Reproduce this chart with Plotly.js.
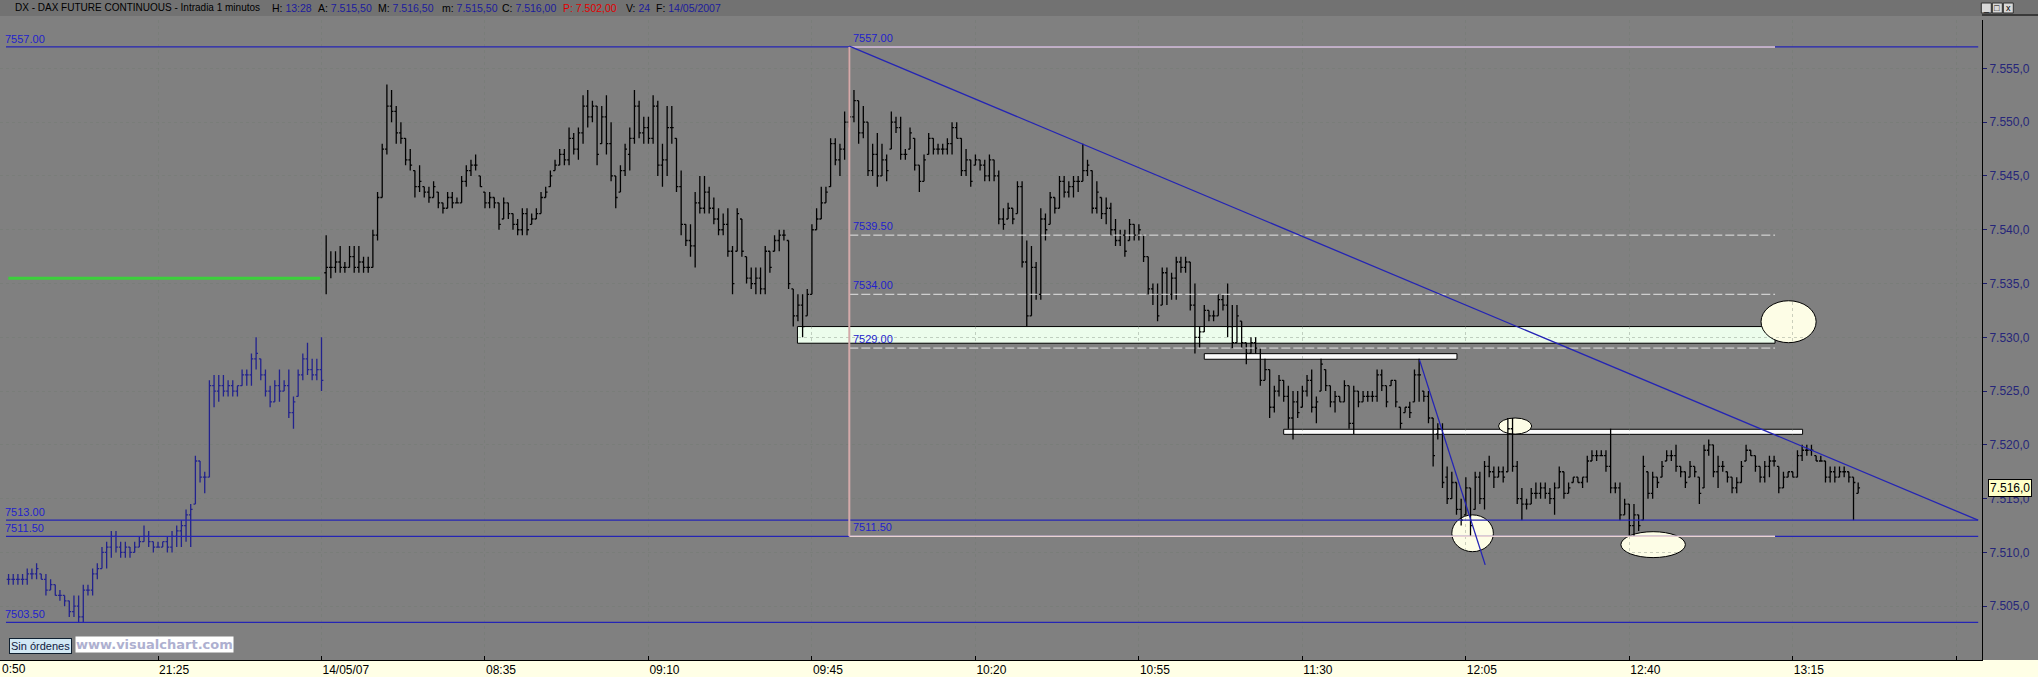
<!DOCTYPE html>
<html><head><meta charset="utf-8">
<script src="https://cdn.plot.ly/plotly-3.0.1.min.js"></script>
<style>html,body{margin:0;padding:0;background:#808080;overflow:hidden}</style>
</head><body><div id="chart" style="width:2038px;height:677px"></div>
<script>
// ---- data: previous session (13/05) 1-minute bars, slots 3..70 ----
const prevStartSlot = 3;
const prevHigh = [7508,7508,7508,7508,7508.5,7508.5,7509,7508,7508,7507.5,
7507,7506.5,7506,7505.5,7506,7506,7507,7507,7508.5,7509,
7510.5,7511,7512,7512,7511,7511,7510.5,7511,7511.5,7512.5,
7512,7511,7511,7511,7511.5,7512,7512.5,7513,7514,7514.5,
7519,7518.5,7517.5,7526,7526.5,7526.5,7526.5,7526,7526,7525.5,
7527,7527,7528.5,7530,7528,7527,7525.5,7526,7527,7526,
7527,7524.5,7527,7528.5,7529.5,7528,7528,7530];
const prevLow = [7507,7507,7507,7507,7507,7507.5,7507.5,7507.5,7506,7506.5,
7506,7505.5,7505,7504,7504,7503.5,7503.5,7506,7506,7507.5,
7508.5,7508.5,7509.5,7510,7509.5,7509.5,7509.5,7510,7510.5,7511,
7510.5,7510,7510.5,7510.5,7510,7510,7510.5,7510.5,7511,7510.5,
7514.5,7516.5,7515.5,7517,7523.5,7524,7524.5,7524.5,7524.5,7524.5,
7525.5,7525.5,7525.5,7527,7526,7524.5,7523.5,7524,7524,7525,
7522.5,7521.5,7524.5,7526,7526.5,7526,7526,7525];
const prevOpen = [7507.5,7507.5,7507.5,7507.5,7507.5,7508,7508,7508,7507.5,7506.5,
7507,7506,7506,7505.5,7504.5,7505,7504,7506.5,7506.5,7508,
7508.5,7510,7510.5,7511.5,7510.5,7510,7510.5,7510,7510.5,7511,
7511.5,7511,7510.5,7510.5,7511,7510.5,7511.5,7512,7512.5,7513.5,
7514.5,7518.5,7517,7517,7525.5,7525,7525.5,7525,7525.5,7525,
7525.5,7526.5,7526.5,7528,7528,7526.5,7525,7524,7525.5,7525,
7525.5,7523,7524.5,7526.5,7528,7527,7526.5,7527];
const prevClose = [7507.5,7507.5,7507.5,7507.5,7508,7508,7508.5,7507.5,7506.5,7507,
7506,7506,7505.5,7504.5,7505,7504,7506.5,7506.5,7508,7508.5,
7510,7510.5,7511.5,7510.5,7510,7510.5,7510,7510.5,7511,7511.5,
7511,7510.5,7510.5,7511,7510.5,7511.5,7512,7512.5,7513.5,7514,
7518.5,7517,7517,7525.5,7525,7525.5,7525,7525.5,7525,7525.5,
7526.5,7526.5,7528,7528.5,7526.5,7525,7524,7525.5,7525,7525.5,
7523,7524,7526.5,7528,7527,7526.5,7527,7526];

// ---- data: session 14/05/07, slots 71..399 ----
const dayStartSlot = 71;
const dayHigh = [
7539.5,7538,7538,7538.5,7537,7538.5,7538.5,7538.5,7537.5,7537.5,
7540,7543.5,7548,7553.5,7553,7551.5,7550,7548.5,7547.5,7545.5,
7546,7544,7544,7544.5,7543.5,7542.5,7543.5,7543.5,7543,7545,
7546,7546.5,7547,7545,7543.5,7543.5,7543,7542.5,7543,7542.5,
7541.5,7541,7542,7542,7541.5,7542,7543.5,7544,7545.5,7546.5,
7547.5,7547.5,7549.5,7549,7549.5,7552.5,7553,7552,7551.5,7551.5,
7552.5,7550,7545,7546,7548,7549.5,7553,7552,7550.5,7550.5,
7552.5,7552,7548,7551.5,7551.5,7548.5,7545.5,7540.5,7540.5,7543.5,
7545,7545,7544,7543,7542,7541.5,7542,7538.5,7542,7541,
7537.5,7536.5,7536.5,7536.5,7538.5,7538,7539.5,7540,7540,7539,
7534.5,7534,7534,7534.5,7540.5,7542,7544,7544,7548.5,7548.5,
7548,7551,7557,7553,7552,7551.5,7550,7548,7549,7548,
7547,7551,7550.5,7550.5,7547.5,7549.5,7548.5,7546,7547,7549,
7548.5,7548,7548,7548.5,7550,7550,7548.5,7547.5,7546.5,7547,
7546.5,7546.5,7547,7546.5,7545.5,7542,7542.5,7542,7544.5,7544.5,
7539,7538.5,7537,7542,7541.5,7543.5,7543,7545,7545,7544.5,
7545,7545,7548,7546.5,7545.5,7544.5,7543,7543,7542.5,7541,
7540,7540,7541,7540.5,7540.5,7539.5,7537.5,7535,7535,7536.5,
7536.5,7536,7537.5,7537.5,7537.5,7537,7535,7531,7533,7532.5,
7532.5,7534,7534,7535,7533,7533,7531.5,7529.5,7530,7530,
7529,7528,7527,7525.5,7526.5,7526,7525.5,7525,7525,7525.5,
7526.5,7527,7524.5,7528,7527,7525.5,7525,7524.5,7526,7525.5,
7525.5,7525,7525,7525,7525,7527,7527,7525.5,7526,7526,
7523.5,7523.5,7524,7527,7528,7525,7525,7522.5,7522,7522,
7518,7517.5,7516.5,7515,7517,7516,7517.5,7517.5,7518.5,7519,
7518,7518,7518,7522.5,7522.5,7518.5,7516,7515,7516,7516.5,
7516.5,7516.5,7516,7516.5,7518,7517.5,7516.5,7517,7517,7517,
7519,7519.5,7519.5,7519.5,7519.5,7521.5,7516.5,7516.5,7515,7514.5,
7514.5,7513.5,7519,7517.5,7517.5,7517,7518.5,7519.5,7519.5,7520,
7518,7517.5,7518.5,7518,7517,7520,7520.5,7520,7519,7518.5,
7517.5,7517,7517,7518.5,7520,7519.5,7519,7518,7518.5,7519,
7519,7518,7517.5,7517.5,7517.5,7519.5,7520,7520,7520,7519,
7519,7518.5,7518,7518,7518,7518,7517.5,7517,7516.5];
const dayLow = [
7534,7535.5,7536,7536,7536,7536.5,7536,7536,7536,7536,
7536.5,7539,7543,7547,7550,7548,7548,7546,7545.5,7543,
7543.5,7543,7542.5,7543,7542,7541.5,7542,7542,7542.5,7542.5,
7544,7545,7545.5,7544,7542,7542,7542,7540,7541,7541,
7540,7539.5,7539.5,7539.5,7540.5,7541,7541.5,7543,7544,7545.5,
7546,7546,7546,7547,7546.5,7548,7549.5,7550,7546,7548,
7547,7544.5,7542,7543.5,7545,7545.5,7548,7548.5,7548,7548,
7548,7545,7544,7545,7548,7543.5,7539.5,7538.5,7537.5,7536.5,
7541.5,7541.5,7541.5,7540.5,7539.5,7539.5,7537.5,7534,7538,7537.5,
7535,7534.5,7534,7534,7534,7536,7538,7538,7539,7534.5,
7531,7531.5,7530,7532,7534,7540,7541,7542.5,7544,7546,
7545,7546.5,7549.5,7550,7548,7548.5,7545,7545,7544,7545,
7544.5,7547.5,7549,7546.5,7546.5,7547.5,7545.5,7543.5,7544.5,7547,
7547,7547,7547,7547,7547,7548.5,7545,7545,7544,7546,
7545.5,7544.5,7544.5,7544.5,7540.5,7540,7541,7540.5,7541.5,7536.5,
7531,7532,7533.5,7533.5,7539,7540.5,7541.5,7542,7543,7543,
7543,7543.5,7544.5,7545,7541.5,7541.5,7541,7540.5,7539.5,7538.5,
7538.5,7537.5,7539,7539,7539,7537,7534,7533,7531.5,7533,
7533,7533.5,7533.5,7536,7536,7532.5,7528.5,7529,7530.5,7531.5,
7531.5,7532,7532.5,7530,7529,7529.5,7529,7527.5,7528.5,7528.5,
7525.5,7526,7522.5,7523,7524.5,7524,7521.5,7520.5,7522.5,7523.5,
7524.5,7523,7522,7525,7525,7523.5,7523,7524,7524,7521.5,
7521,7523.5,7524,7524,7524,7524,7525,7523.5,7525.5,7523.5,
7521.5,7523,7522.5,7524,7524,7524,7522,7518,7520.5,7516,
7514.5,7515,7513.5,7512.5,7513.5,7511.5,7514,7514.5,7514,7517,
7516,7517,7516.5,7517.5,7517.5,7514.5,7513,7514,7514.5,7515,
7515,7515,7514.5,7513.5,7516,7515,7515.5,7516.5,7516.5,7516,
7516.5,7518.5,7518.5,7519,7517.5,7515.5,7515.5,7513,7513.5,7511.5,
7511.5,7512,7513,7515,7515,7516,7517,7518.5,7518.5,7517.5,
7517,7516,7517,7517,7514.5,7516,7519,7517,7516,7517.5,
7516.5,7515.5,7515.5,7516.5,7518.5,7519,7517.5,7516.5,7516.5,7517,
7518,7515.5,7516,7517,7517,7517,7518.5,7519,7519,7518.5,
7518.5,7516.5,7516.5,7516.5,7517,7517,7516.5,7513,7515.5];
const dayOpen = [
7536,7536.5,7536.5,7537,7536.5,7536.5,7537.5,7536.5,7537,7536.5,
7536.5,7539.5,7543,7547.5,7551.5,7551,7549,7548.5,7546.5,7545.5,
7544,7544,7543.5,7543,7543.5,7542.5,7542,7543,7542.5,7542.5,
7544.5,7545.5,7546,7545,7543.5,7542.5,7543,7542.5,7541,7542.5,
7541.5,7540.5,7540,7541.5,7540.5,7541,7541.5,7543,7544,7545.5,
7546,7547,7546.5,7548.5,7547.5,7549,7551.5,7550.5,7551.5,7548,
7550.5,7548,7545,7543.5,7545.5,7547,7548.5,7551.5,7549,7549.5,
7548.5,7551.5,7546,7546.5,7549.5,7548.5,7544,7540.5,7539,7538.5,
7542.5,7542,7543.5,7542,7541,7540,7540.5,7538,7538,7541,
7537.5,7535.5,7535,7535.5,7534.5,7538,7538,7539,7539.5,7539,
7534.5,7532,7533,7532,7534,7540,7541,7542.5,7544,7548,
7546.5,7547.5,7550,7550.5,7552,7549,7550,7545.5,7547,7545,
7546.5,7547.5,7550,7549.5,7547,7547.5,7548.5,7546,7544.5,7547,
7548.5,7547.5,7547.5,7547.5,7548,7549.5,7548.5,7545.5,7546.5,7546,
7546.5,7546,7545,7546.5,7545,7541,7541,7542,7541.5,7544,
7537,7532,7536.5,7534,7541,7540.5,7543,7542,7544.5,7543.5,
7544,7544.5,7544.5,7545.5,7545.5,7542,7543,7541.5,7542,7540,
7539,7539.5,7539,7540.5,7539.5,7539.5,7537.5,7534.5,7534,7533,
7536,7534,7535.5,7537,7536.5,7537,7533,7530,7530.5,7532.5,
7532,7532,7533.5,7533,7531,7529.5,7531.5,7529.5,7528.5,7529.5,
7529,7526,7527,7523.5,7525,7526,7524.5,7522.5,7524,7523.5,
7525,7526,7523.5,7525,7527,7525.5,7524,7524.5,7524,7525.5,
7522,7525,7524,7524.5,7524.5,7524.5,7526.5,7525.5,7525.5,7526,
7523.5,7523,7523.5,7524,7526.5,7525,7524.5,7522.5,7521,7521.5,
7517,7515,7516.5,7514,7513.5,7516,7514,7517,7515,7518,
7517.5,7517,7517.5,7517.5,7521.5,7518,7515,7514.5,7514.5,7515.5,
7515.5,7516,7515.5,7515,7516,7517.5,7515.5,7516.5,7517,7516.5,
7517,7518.5,7519,7519,7519,7518,7516,7516,7513.5,7514.5,
7512.5,7513.5,7513,7517.5,7515.5,7517,7517,7518.5,7519,7519,
7518,7517.5,7517,7518,7517,7516,7519.5,7520,7517.5,7518,
7517.5,7517,7516,7516.5,7518.5,7519.5,7519,7518,7517,7518,
7518.5,7518,7516,7517,7517.5,7517,7519,7519.5,7519.5,7519,
7518.5,7518.5,7517,7517.5,7517,7517.5,7517.5,7517,7515.5];
const dayClose = [
7536.5,7536.5,7537,7536.5,7536.5,7537.5,7536.5,7537,7536.5,7536.5,
7539.5,7543,7547.5,7551.5,7551,7549,7548.5,7546.5,7546,7544,
7544.5,7543.5,7543,7544,7542.5,7542,7543,7542.5,7542.5,7544.5,
7545.5,7546,7546,7544,7542.5,7543,7542.5,7540.5,7542.5,7541.5,
7540.5,7540,7541.5,7540,7541,7541.5,7543,7543.5,7545,7546,
7547,7546.5,7548.5,7547.5,7549,7551.5,7550.5,7551.5,7547,7550.5,
7548,7545,7543,7545.5,7547.5,7548.5,7551.5,7549,7549.5,7548.5,
7551.5,7546,7546.5,7549.5,7549.5,7544,7540.5,7539,7538.5,7542.5,
7542,7543.5,7542,7541,7540,7540.5,7538,7535,7541.5,7538,
7535.5,7535,7535.5,7534.5,7538,7536.5,7539,7539.5,7539.5,7535,
7532,7533,7531,7534,7540,7541,7542.5,7543.5,7548,7546.5,
7547.5,7550,7550.5,7552,7549,7550,7545.5,7547,7545,7546.5,
7545.5,7550,7549.5,7547,7547,7549,7546,7544.5,7546.5,7548.5,
7547.5,7547.5,7547.5,7548,7549.5,7548.5,7545.5,7546.5,7544.5,7546.5,
7546,7545,7546.5,7545,7541,7540.5,7542,7541,7544,7537,
7532,7536.5,7534,7541,7540,7543,7542,7544.5,7543.5,7544,
7544.5,7544.5,7545.5,7546,7542,7543.5,7541.5,7542,7540,7539,
7539.5,7538,7540.5,7539.5,7540,7537.5,7534.5,7534,7532,7536,
7534,7535.5,7537,7536.5,7537,7533,7530,7530.5,7532.5,7532,
7532,7533.5,7533,7531,7529.5,7532,7529.5,7528.5,7529.5,7529,
7526,7527,7523.5,7525,7526,7524.5,7522.5,7524,7523,7525,
7526,7523.5,7524,7527.5,7525.5,7524,7524.5,7524,7525.5,7522,
7525,7524,7524.5,7524.5,7524.5,7526.5,7525.5,7524,7526,7524,
7522,7523.5,7523,7526.5,7526.5,7524.5,7522.5,7519,7521.5,7516.5,
7515,7516.5,7514,7513,7516,7512.5,7517,7515,7518,7517.5,
7517,7517.5,7517,7521.5,7518,7515,7514.5,7514.5,7515.5,7515.5,
7516,7515.5,7515,7516,7517.5,7515.5,7516,7517,7516.5,7517,
7518.5,7519,7519,7519,7518,7516,7516,7513.5,7514.5,7512.5,
7513.5,7512.5,7518,7515.5,7517,7516.5,7518,7519,7519,7518,
7517.5,7516.5,7518,7517.5,7515.5,7519.5,7520,7517.5,7518,7518,
7517,7516,7516.5,7518,7519.5,7519,7518,7517,7518,7518.5,
7518.5,7516,7517,7517.5,7517,7519,7519.5,7519.5,7519.5,7518.5,
7518.5,7517,7517.5,7517,7517.5,7517.5,7517,7516.5,7516];

// ---- axis labels / levels ----
const xTickSlots = [35,70,105,140,175,210,245,280,315,350,385,420];
const xTickLabels = ['21:25','14/05/07','08:35','09:10','09:45','10:20','10:55','11:30','12:05','12:40','13:15',''];
const yTickVals = [7505,7510,7515,7520,7525,7530,7535,7540,7545,7550,7555];
const supportLevels = [7557, 7513, 7511.5, 7503.5];
const supportLabels = ['7557.00','7513.00','7511.50','7503.50'];
const fibLevels = [7557, 7539.5, 7534, 7529, 7511.5];
const fibLabels = ['7557.00','7539.50','7534.00','7529.00','7511.50'];
const greenLevel = 7535.5;
const zoneLevels = [7529.45, 7531];
const lastPrice = 7516.0;
const headerTitle = 'DX - DAX FUTURE CONTINUOUS - Intradia 1 minutos';
const headerKeys = ['H:','A:','M:','m:','C:','P:','V:','F:'];
const headerValues = ['13:28','7.515,50','7.516,50','7.515,50','7.516,00','7.502,00','24','14/05/2007'];

const prevX = prevOpen.map((_, i) => prevStartSlot + i);
const dayX = dayOpen.map((_, i) => dayStartSlot + i);

const traces = [
  {type:'ohlc', x:prevX, open:prevOpen, high:prevHigh, low:prevLow, close:prevClose,
   increasing:{line:{color:'#22228e', width:1.3}}, decreasing:{line:{color:'#22228e', width:1.3}},
   tickwidth:0.4, hoverinfo:'skip'},
  {type:'ohlc', x:dayX, open:dayOpen, high:dayHigh, low:dayLow, close:dayClose,
   increasing:{line:{color:'#000000', width:1.3}}, decreasing:{line:{color:'#000000', width:1.3}},
   tickwidth:0.4, hoverinfo:'skip'}
];

const BLUE = '#2424b4';
const PW = 1981.7; // plot width px
const PH = 640;
const shapes = [];
// header band and bottom band
shapes.push({type:'rect', xref:'paper', yref:'paper', x0:-0.01, x1:1.03, y0:1+4/PH, y1:1+21/PH, fillcolor:'#727272', line:{width:0}, layer:'below'});
shapes.push({type:'rect', xref:'paper', yref:'paper', x0:-0.01, x1:1.03, y0:-18/PH, y1:0, fillcolor:'#ffffe6', line:{width:0}, layer:'below'});
shapes.push({type:'line', xref:'paper', yref:'paper', x0:1, x1:1.03, y0:1+5/PH, y1:1+5/PH, line:{color:'#000', width:1}});
// window buttons
[0,1,2].forEach(k=>{
  shapes.push({type:'rect', xref:'paper', yref:'paper', x0:(1981+k*11)/PW, x1:(1991+k*11)/PW, y0:1+7/PH, y1:1+17/PH, fillcolor:'#d8d8d8', line:{color:'#303030', width:1}});
});
// light zones (below bars)
shapes.push({type:'rect', x0:171.9, x1:381.2, y0:zoneLevels[0], y1:zoneLevels[1], fillcolor:'#ecfdec', line:{color:'#000', width:1}, layer:'below'});
shapes.push({type:'rect', x0:259.0, x1:313.1, y0:7527.96, y1:7528.48, fillcolor:'#fafafa', line:{color:'#000', width:1}, layer:'below'});
shapes.push({type:'rect', x0:276.0, x1:387.1, y0:7520.98, y1:7521.45, fillcolor:'#fafafa', line:{color:'#000', width:1}, layer:'below'});
shapes.push({type:'circle', x0:378.2, x1:390.0, y0:7529.5, y1:7533.4, fillcolor:'#fdfde6', line:{color:'#000', width:1}, layer:'below'});
shapes.push({type:'circle', x0:322.0, x1:329.1, y0:7521.0, y1:7522.5, fillcolor:'#fdfde6', line:{color:'#000', width:1}, layer:'below'});
shapes.push({type:'circle', x0:312.0, x1:320.9, y0:7510.07, y1:7513.49, fillcolor:'#fdfde6', line:{color:'#000', width:1}, layer:'below'});
shapes.push({type:'circle', x0:348.2, x1:362.0, y0:7509.52, y1:7511.93, fillcolor:'#fdfde6', line:{color:'#000', width:1}, layer:'below'});
// green reference line
shapes.push({type:'line', x0:2.95, x1:69.7, y0:greenLevel, y1:greenLevel, line:{color:'#3cd03c', width:3}});
// blue horizontal lines
supportLevels.forEach(v=>shapes.push({type:'line', x0:2.45, x1:424.7, y0:v, y1:v, line:{color:BLUE, width:1.3}}));
// fibonacci retracement
fibLevels.forEach((v,i)=>{
  const solid = (i===0 || i===fibLevels.length-1);
  shapes.push({type:'line', x0:183, x1:381.2, y0:v, y1:v,
    line: solid ? {color:'#ead2d2', width:1.5} : {color:'#e4e4e4', width:1, dash:'9px,3px'}});
});
shapes.push({type:'line', x0:183, x1:183, y0:fibLevels[fibLevels.length-1], y1:fibLevels[0], line:{color:'#d4aaaa', width:2}});
// trend lines
shapes.push({type:'line', x0:183, x1:424.66, y0:7557.07, y1:7513.0, line:{color:BLUE, width:1.3}});
shapes.push({type:'line', x0:305.08, x1:319.15, y0:7527.9, y1:7508.84, line:{color:BLUE, width:1.3}});

const FONT = 'Arial, Liberation Sans, sans-serif';
const LBL = {family:FONT, size:11, color:'#2222cc'};
const annotations = [];
supportLevels.forEach((v,i)=>annotations.push({xref:'paper', x:4/PW, xanchor:'left', y:v, yanchor:'bottom', yshift:1, text:supportLabels[i], showarrow:false, font:LBL, borderpad:0}));
fibLevels.forEach((v,i)=>annotations.push({x:183.6, xanchor:'left', y:v, yanchor:'bottom', yshift:2, text:fibLabels[i], showarrow:false, font:LBL, borderpad:0}));
// header line
const HY = 1+(20-8)/PH;
annotations.push({xref:'paper', yref:'paper', x:13/PW, y:HY, xanchor:'left', yanchor:'middle', text:headerTitle, showarrow:false,
  font:{family:FONT, size:10, color:'#000'}});
const headerX = [270, 316, 376, 440, 500, 561, 624, 654];
headerKeys.forEach((k,i)=>{
  const isP = (k==='P:');
  const txt = isP ? '<span style="color:#e00000">'+k+' '+headerValues[i]+'</span>'
                  : k+' <span style="color:#1c1c9c">'+headerValues[i]+'</span>';
  annotations.push({xref:'paper', yref:'paper', x:headerX[i]/PW, y:HY, xanchor:'left', yanchor:'middle', text:txt, showarrow:false,
    font:{family:FONT, size:10.5, color:'#000'}});
});
annotations.push({xref:'paper', yref:'paper', x:0, y:-9/PH, xanchor:'left', yanchor:'middle', text:'0:50', showarrow:false,
  font:{family:FONT, size:12, color:'#000'}});
annotations.push({xref:'paper', yref:'paper', x:8.5/PW, y:(660-646)/PH, xanchor:'left', yanchor:'middle', text:'Sin órdenes', showarrow:false,
  bgcolor:'#d2e8f4', bordercolor:'#102030', borderwidth:1, borderpad:1,
  font:{family:FONT, size:11, color:'#102040'}});
annotations.push({xref:'paper', yref:'paper', x:75/PW, y:(660-644)/PH, xanchor:'left', yanchor:'middle', text:'<b>www.visualchart.com</b>', showarrow:false,
  bgcolor:'#ffffff', borderpad:0, font:{family:'DejaVu Sans, Verdana, sans-serif', size:13, color:'#aeb0d0'}});
annotations.push({xref:'paper', x:1988/PW, xanchor:'left', y:lastPrice, yanchor:'middle', text:'7.516,0', showarrow:false,
  bgcolor:'#ffffc8', bordercolor:'#000', borderwidth:1, borderpad:1, font:{family:FONT, size:12, color:'#000'}});
['_','□','x'].forEach((t,k)=>annotations.push({xref:'paper', yref:'paper', x:(1986+k*11)/PW, y:1+(20-8)/PH, xanchor:'center', yanchor:'middle', text:t, showarrow:false,
  font:{family:FONT, size:9, color:'#000'}}));

const layout = {
  width:2038, height:677,
  margin:{l:0, r:2038-PW, t:20, b:17, pad:0},
  paper_bgcolor:'#808080', plot_bgcolor:'#808080',
  showlegend:false, separators:',.',
  font:{family:FONT, size:12, color:'#000'},
  xaxis:{range:[1.167, 425.51], tickmode:'array', tickvals:xTickSlots, ticktext:xTickLabels,
    ticks:'inside', ticklen:4, tickcolor:'#000', ticklabelposition:'outside right', ticklabelstandoff:-1,
    tickfont:{family:FONT, size:12, color:'#000'},
    showgrid:true, gridcolor:'rgba(110,120,110,0.35)', griddash:'dot', zeroline:false,
    showline:true, linecolor:'#000', linewidth:1, rangeslider:{visible:false}, fixedrange:true},
  yaxis:{side:'right', range:[7500, 7559.5], tickmode:'array', tickvals:yTickVals, tickformat:',.1f',
    ticks:'outside', ticklen:4, tickcolor:'#1c1c6c',
    tickfont:{family:FONT, size:12, color:'#26267a'},
    showgrid:true, gridcolor:'rgba(110,120,110,0.35)', griddash:'dot', zeroline:false,
    showline:true, linecolor:'#000', linewidth:1, fixedrange:true},
  shapes:shapes, annotations:annotations
};
Plotly.newPlot('chart', traces, layout, {staticPlot:true, displayModeBar:false});
</script></body></html>
